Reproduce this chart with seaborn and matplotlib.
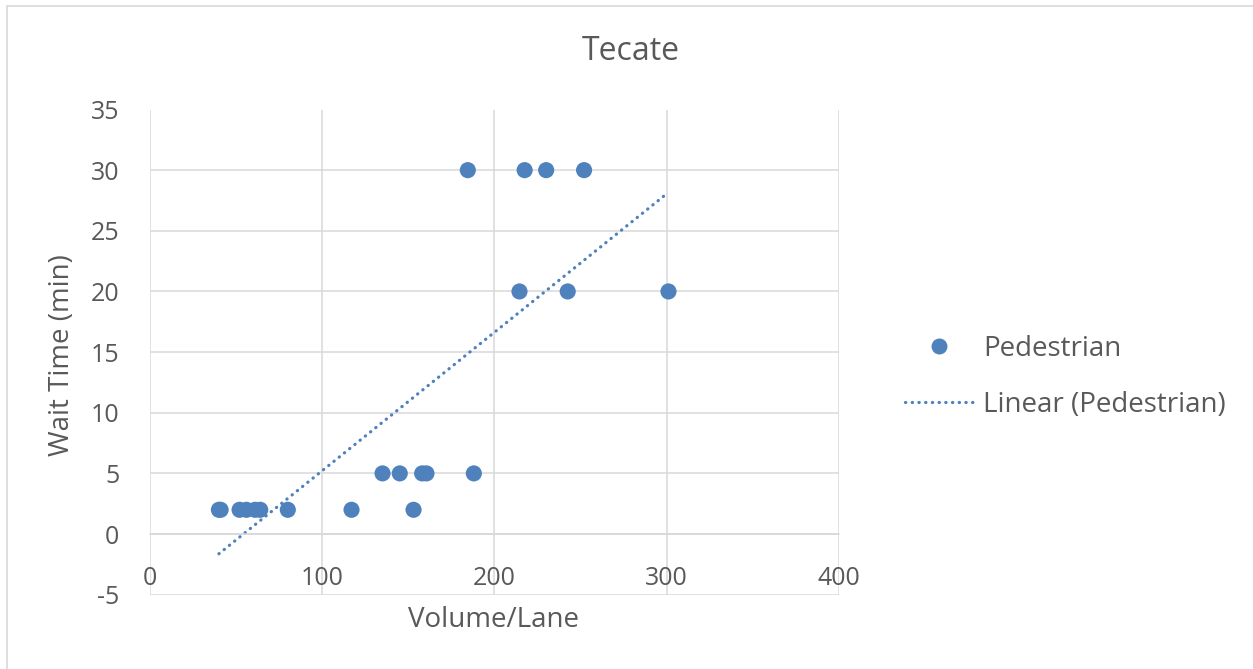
import numpy as np
import pandas as pd
import matplotlib
matplotlib.use("Agg")
import matplotlib.pyplot as plt
from matplotlib.lines import Line2D
import seaborn as sns

# Pedestrian crossings at Tecate: volume per lane vs. wait time
volume_per_lane = [40, 41, 52, 56, 61, 64, 80, 117, 153,
                   135, 145, 158, 160.5, 188,
                   184.5, 217.5, 230, 252,
                   214.5, 242.5, 301]
wait_time_min = [2, 2, 2, 2, 2, 2, 2, 2, 2,
                 5, 5, 5, 5, 5,
                 30, 30, 30, 30,
                 20, 20, 20]

x_ticks = [0, 100, 200, 300, 400]
y_ticks = [-5, 0, 5, 10, 15, 20, 25, 30, 35]

df = pd.DataFrame({"Volume/Lane": volume_per_lane, "Wait Time (min)": wait_time_min})

sns.set_theme(style="white")
plt.rcParams["font.family"] = ["Open Sans", "DejaVu Sans"]

BLUE = "#4F81BD"
GRID = "#D9D9D9"
TEXT = "#595959"

W, H = 1253, 669
fig = plt.figure(figsize=(W / 100, H / 100), dpi=100)
fig.patch.set_facecolor("white")

# plot area in pixel terms
left, right, top, bottom = 150, 839, 109.5, 594.7
ax = fig.add_axes([left / W, 1 - bottom / H, (right - left) / W, (bottom - top) / H])

sns.scatterplot(data=df, x="Volume/Lane", y="Wait Time (min)", ax=ax,
                color=BLUE, s=135, edgecolor="none", zorder=3)
sns.regplot(data=df, x="Volume/Lane", y="Wait Time (min)", ax=ax,
            scatter=False, ci=None, truncate=True,
            line_kws=dict(color=BLUE, lw=2.3, linestyle=(0, (0.1, 2.0)),
                          dash_capstyle="round", zorder=2))

ax.set_xlim(0, 400)
ax.set_ylim(-5, 35)
ax.set_xticks(x_ticks)
ax.set_yticks(y_ticks)
ax.set_xticklabels([str(v) for v in x_ticks])
ax.set_yticklabels([str(v) for v in y_ticks])
ax.grid(True, color=GRID, lw=1.1, zorder=0)
ax.set_axisbelow(True)

for name in ["top", "right", "left"]:
    ax.spines[name].set_visible(False)
ax.spines["bottom"].set_position(("data", 0))
ax.spines["bottom"].set_color(GRID)
ax.spines["bottom"].set_linewidth(1.1)

ax.tick_params(axis="x", length=0, pad=23, labelsize=18, labelcolor=TEXT)
ax.tick_params(axis="y", length=0, pad=22, labelsize=18, labelcolor=TEXT)

ax.set_xlabel("")
ax.set_ylabel("")
fig.text(494 / W, 1 - 620 / H, "Volume/Lane", ha="center", va="center",
         fontsize=20, color=TEXT)
fig.text(62 / W, 1 - 355 / H, "Wait Time (min)", ha="center", va="center",
         rotation=90, fontsize=20, color=TEXT)
fig.text(631 / W, 1 - 52 / H, "Tecate", ha="center", va="center",
         fontsize=23, color=TEXT)

# legend
handles = [
    Line2D([], [], marker="o", linestyle="none", color=BLUE, markersize=11.5,
           markeredgewidth=0),
    Line2D([], [], color=BLUE, lw=2.3, linestyle=(0, (0.1, 2.0)),
           dash_capstyle="round"),
]
leg = fig.legend(handles, ["Pedestrian", "Linear (Pedestrian)"],
                 loc="center left", bbox_to_anchor=(905 / W, 1 - 377 / H),
                 frameon=False, fontsize=20, labelcolor=TEXT,
                 handlelength=2.45, handletextpad=0.36, labelspacing=1.0,
                 borderpad=0, borderaxespad=0)

# chart-area border (top and left edges)
fig.add_artist(Line2D([6.5 / W, 6.5 / W], [0, 1 - 6 / H], transform=fig.transFigure,
                      color=GRID, lw=1.2))
fig.add_artist(Line2D([6.5 / W, 1], [1 - 6 / H, 1 - 6 / H], transform=fig.transFigure,
                      color=GRID, lw=1.2))

fig.savefig("out.png", dpi=100, facecolor="white")
